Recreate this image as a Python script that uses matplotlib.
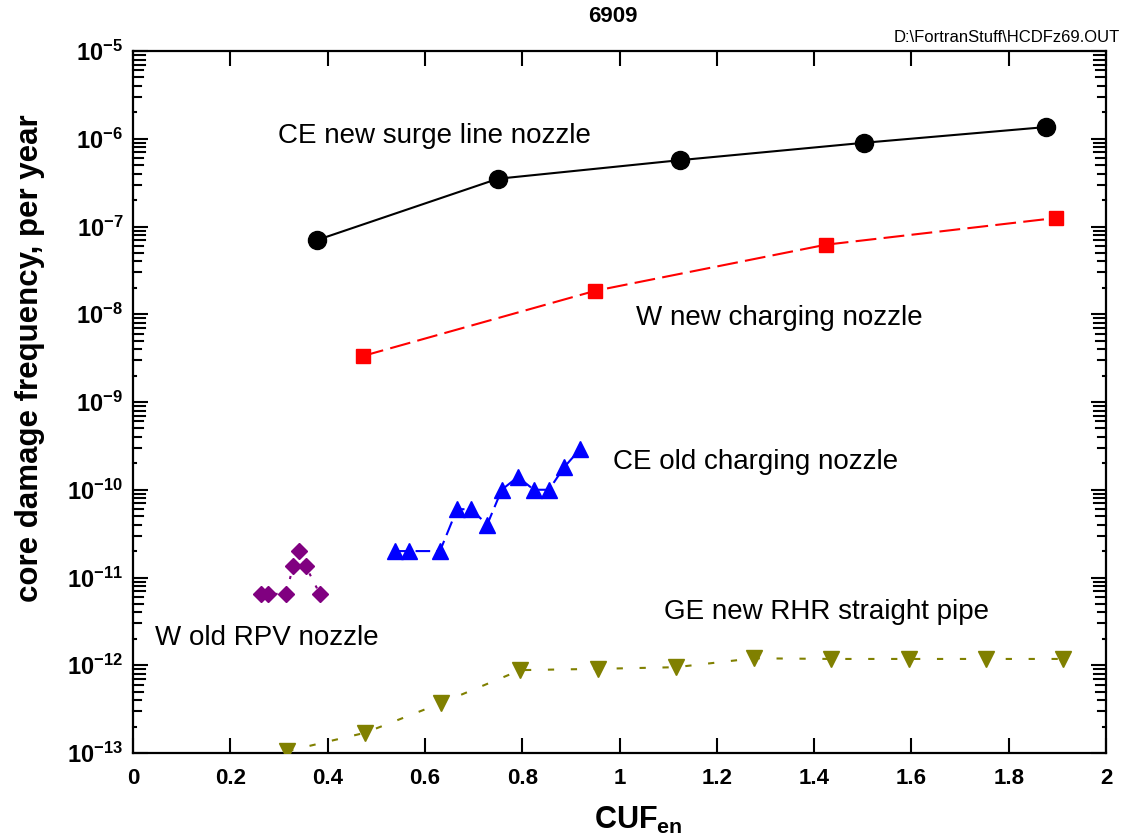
import matplotlib
matplotlib.use("Agg")
import matplotlib.pyplot as plt
import matplotlib.ticker as mticker
from matplotlib import font_manager as fm
import numpy as np

# ---------------- data ----------------
ce_surge_x = [0.378, 0.750, 1.124, 1.503, 1.877]
ce_surge_y = [7.0e-8, 3.5e-7, 5.7e-7, 9.0e-7, 1.36e-6]

w_charg_x = [0.473, 0.950, 1.424, 1.897]
w_charg_y = [3.35e-9, 1.85e-8, 6.2e-8, 1.25e-7]

ce_old_x = [0.538, 0.567, 0.631, 0.666, 0.695, 0.728, 0.758, 0.791, 0.824, 0.855, 0.886, 0.919]
ce_old_y = [2.0e-11, 2.0e-11, 2.0e-11, 6.0e-11, 6.0e-11, 4.0e-11, 1.0e-10, 1.4e-10, 1.0e-10, 1.0e-10, 1.8e-10, 2.9e-10]

w_rpv_x = [0.263, 0.277, 0.315, 0.329, 0.341, 0.355, 0.384]
w_rpv_y = [6.5e-12, 6.5e-12, 6.5e-12, 1.35e-11, 2.0e-11, 1.35e-11, 6.5e-12]

ge_rhr_x = [0.317, 0.477, 0.633, 0.796, 0.956, 1.116, 1.276, 1.435, 1.595, 1.753, 1.912]
ge_rhr_y = [1.05e-13, 1.7e-13, 3.7e-13, 8.8e-13, 9.1e-13, 9.5e-13, 1.2e-12, 1.18e-12, 1.18e-12, 1.18e-12, 1.18e-12]

x_ticks = [0, 0.2, 0.4, 0.6, 0.8, 1, 1.2, 1.4, 1.6, 1.8, 2]
x_tick_labels = ["0", "0.2", "0.4", "0.6", "0.8", "1", "1.2", "1.4", "1.6", "1.8", "2"]
y_exponents = [-13, -12, -11, -10, -9, -8, -7, -6, -5]

series_labels = ["CE new surge line nozzle", "W new charging nozzle",
                 "CE old charging nozzle", "W old RPV nozzle",
                 "GE new RHR straight pipe"]

# ---------------- fonts ----------------
avail = {f.name for f in fm.fontManager.ttflist}
narrow = "Liberation Sans Narrow" if "Liberation Sans Narrow" in avail else "Liberation Sans"
plt.rcParams['font.family'] = ['Liberation Sans', 'DejaVu Sans']
plt.rcParams['mathtext.fontset'] = 'custom'
plt.rcParams['mathtext.rm'] = narrow
plt.rcParams['mathtext.bf'] = narrow + ':bold'
plt.rcParams['mathtext.it'] = narrow + ':italic'

W, H = 1122, 839
fig = plt.figure(figsize=(W / 100, H / 100), dpi=100)
L, R, T, B = 133, 1106, 51, 753
ax = fig.add_axes([L / W, 1 - B / H, (R - L) / W, (B - T) / H])

lw = 1.5
ax.plot(ce_surge_x, ce_surge_y, '-', color='black', lw=lw, marker='o', ms=13, zorder=3)
ax.plot(w_charg_x, w_charg_y, color='#ff0000', lw=lw, dashes=(10, 3.5), marker='s', ms=9.5, zorder=3)
ax.plot(ce_old_x, ce_old_y, color='#0000ff', lw=lw, dashes=(7, 3), marker='^', ms=11, zorder=3)
ax.plot(w_rpv_x, w_rpv_y, color='#800080', lw=lw, dashes=(1.5, 5), marker='D', ms=8.5, zorder=3)
ax.plot(ge_rhr_x, ge_rhr_y, color='#808000', lw=lw, dashes=(3, 8), marker='v', ms=11, zorder=3)

ax.set_yscale('log')
ax.set_xlim(0, 2)
ax.set_ylim(1e-13, 1e-5)

# ticks
ax.set_xticks(x_ticks)
ax.set_xticklabels(x_tick_labels)
ax.set_yticks([10.0 ** e for e in y_exponents])
ax.set_yticklabels([r"$\mathbf{10^{%d}}$" % e for e in y_exponents])
ax.yaxis.set_minor_locator(mticker.NullLocator())
ax.xaxis.set_minor_locator(mticker.NullLocator())
ax.tick_params(axis='both', which='major', direction='in', length=11, width=1.5,
               top=True, right=True)
ax.tick_params(axis='x', pad=11)
ax.tick_params(axis='y', pad=7)
for lab in ax.get_xticklabels():
    lab.set_fontfamily(narrow)
    lab.set_fontweight('bold')
    lab.set_fontsize(16)
for lab in ax.get_yticklabels():
    lab.set_fontsize(17)

for sp in ax.spines.values():
    sp.set_linewidth(1.6)

# minor log ticks with graded lengths (pixels)
minor_len = {2: 3, 3: 8, 4: 8, 5: 10, 6: 10, 7: 12, 8: 12, 9: 12}
axw = R - L
for e in y_exponents[:-1]:
    for k, ln in minor_len.items():
        yv = k * 10.0 ** e
        f = ln / axw
        ax.axhline(yv, xmin=0, xmax=f, color='black', lw=1.5, zorder=4, clip_on=False)
        ax.axhline(yv, xmin=1 - f, xmax=1, color='black', lw=1.5, zorder=4, clip_on=False)

# series labels
def place(txt, px, py):
    fig.text(px / W, 1 - py / H, txt, fontsize=20, ha='left', va='center')

place(series_labels[0], 278, 136)
place(series_labels[1], 636, 318)
place(series_labels[2], 613, 462)
place(series_labels[3], 155, 638)
place(series_labels[4], 664, 612)

# titles & axis labels
fig.text(613 / W, 1 - 17 / H, "6909", fontsize=16, fontweight='bold', ha='center', va='center')
fig.text(1120 / W, 1 - 38 / H, r"D:\FortranStuff\HCDFz69.OUT", fontsize=12,
         ha='right', va='center')
fig.text(30 / W, 1 - 358 / H, "core damage frequency, per year", fontsize=22.5,
         fontweight='bold', rotation=90, ha='center', va='center')
fig.text(638 / W, 1 - 820 / H, r"$\mathbf{CUF_{en}}$", fontsize=22, ha='center', va='center')

fig.savefig("out.png", dpi=100)
